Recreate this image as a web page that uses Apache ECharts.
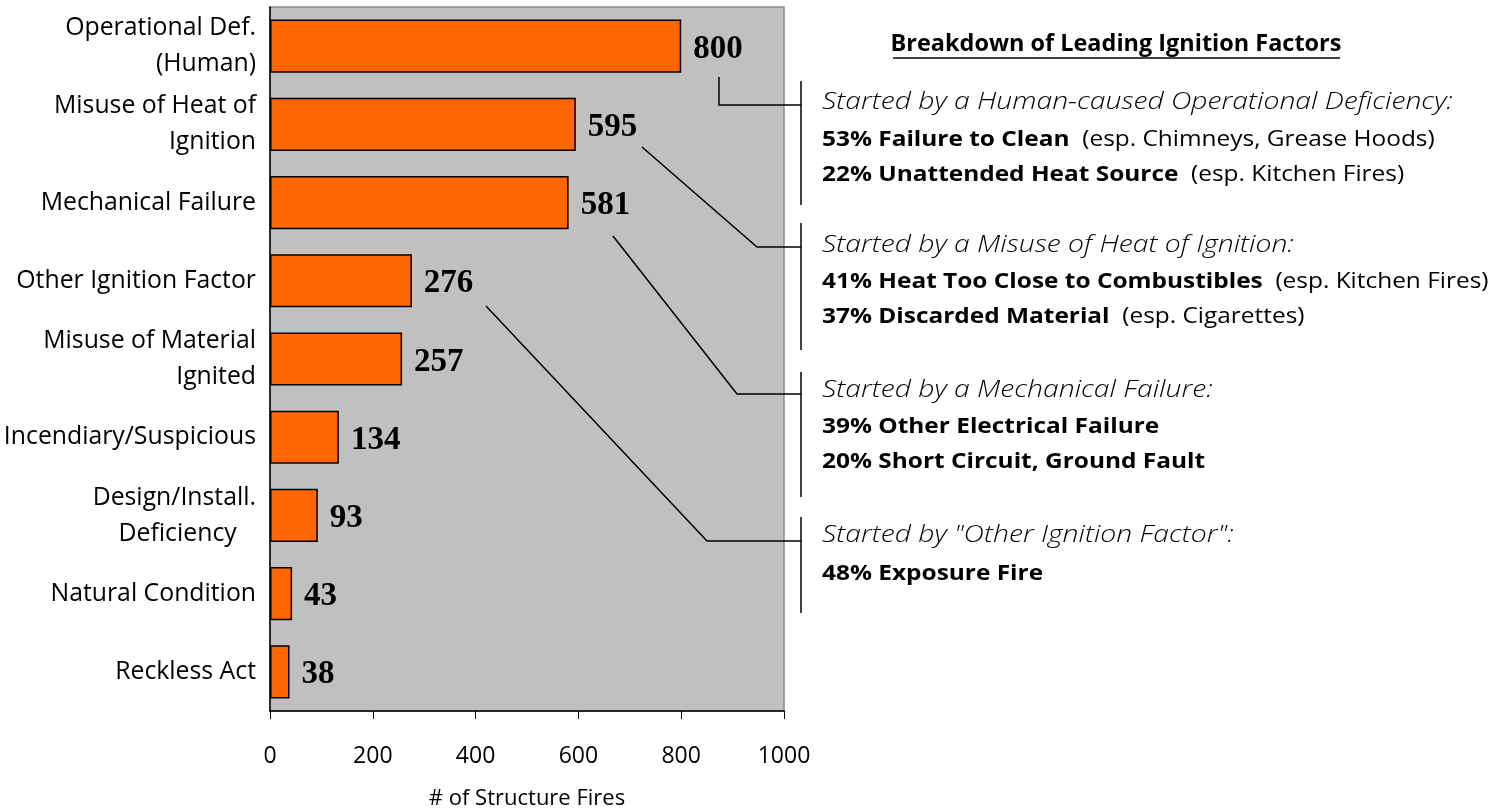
<!DOCTYPE html>
<html>
<head>
<meta charset="utf-8">
<script src="https://cdn.jsdelivr.net/npm/echarts@6/dist/echarts.min.js"></script>
<style>
html,body{margin:0;padding:0;background:#fff;}
#chart{width:1508px;height:812px;}
</style>
</head>
<body>
<div id="chart"></div>
<script>
const categories = [
  "Operational Def.\n(Human)",
  "Misuse of Heat of\nIgnition",
  "Mechanical Failure",
  "Other Ignition Factor",
  "Misuse of Material\nIgnited",
  "Incendiary/Suspicious",
  "Design/Install.\nDeficiency   ",
  "Natural Condition",
  "Reckless Act"
];
const values = [800, 595, 581, 276, 257, 134, 93, 43, 38];
const xTicks = [0, 200, 400, 600, 800, 1000];
const panelTitle = "Breakdown of Leading Ignition Factors";
const groupHeads = [
  "Started by a Human-caused Operational Deficiency:",
  "Started by a Misuse of Heat of Ignition:",
  "Started by a Mechanical Failure:",
  "Started by \"Other Ignition Factor\":"
];
const groupItems = [
  [["53% Failure to Clean", "(esp. Chimneys, Grease Hoods)"], ["22% Unattended Heat Source", "(esp. Kitchen Fires)"]],
  [["41% Heat Too Close to Combustibles", "(esp. Kitchen Fires)"], ["37% Discarded Material", "(esp. Cigarettes)"]],
  [["39% Other Electrical Failure", ""], ["20% Short Circuit, Ground Fault", ""]],
  [["48% Exposure Fire", ""]]
];

const FONT = "'Open Sans'";
const chart = echarts.init(document.getElementById('chart'));

// annotation panel layout (pixels)
const textX = 822;
const groupLineY = [[102, 140, 175], [245, 282, 317], [390, 427, 462], [535, 574]];
const brackets = [[81, 205], [223, 350], [372, 497], [517, 613]];
const bracketX = 801;
const connectors = [
  [[719, 77], [719, 105], [bracketX, 105]],
  [[642, 147], [757, 247], [bracketX, 247]],
  [[613, 236], [737, 394], [bracketX, 394]],
  [[486, 306], [707, 541], [bracketX, 541]]
];

const graphics = [];
graphics.push({
  type: 'text', x: 1116, y: 44, scaleX: 1.02,
  style: { text: panelTitle, x: 0, y: 0, align: 'center', verticalAlign: 'middle',
    font: "bold 23px " + FONT, fill: '#000' }
});
graphics.push({ type: 'line', shape: { x1: 893, y1: 58, x2: 1340, y2: 58 }, style: { stroke: '#000', lineWidth: 1.5 } });

groupHeads.forEach((h, gi) => {
  const ys = groupLineY[gi];
  graphics.push({
    type: 'text', x: textX, y: ys[0], scaleX: 1.18,
    style: { text: h, x: 0, y: 0, verticalAlign: 'middle', font: "italic 300 24px " + FONT, fill: '#000' }
  });
  groupItems[gi].forEach((it, ii) => {
    graphics.push({
      type: 'text', x: textX, y: ys[ii + 1], scaleX: 1.11,
      style: {
        text: '{b|' + it[0] + '}' + (it[1] ? '{n|  ' + it[1] + '}' : ''),
        x: 0, y: 0, verticalAlign: 'middle',
        rich: {
          b: { font: "bold 22px " + FONT, fill: '#000' },
          n: { font: "22px " + FONT, fill: '#000' }
        }
      }
    });
  });
  graphics.push({ type: 'line', shape: { x1: bracketX, y1: brackets[gi][0], x2: bracketX, y2: brackets[gi][1] }, style: { stroke: '#000', lineWidth: 1.5 } });
  graphics.push({ type: 'polyline', shape: { points: connectors[gi] }, style: { stroke: '#000', lineWidth: 1.5, fill: null }, z: 100 });
});

chart.setOption({
  backgroundColor: '#fff',
  animation: false,
  grid: { left: 270, right: 724, top: 7, bottom: 101, containLabel: false, outerBoundsMode: 'none',
    show: true, backgroundColor: '#C0C0C0', borderColor: '#8c8c8c', borderWidth: 1.5 },
  xAxis: {
    type: 'value', min: 0, max: 1000, interval: 200,
    name: '# of Structure Fires', nameLocation: 'middle', nameGap: 77,
    nameTextStyle: { fontFamily: FONT, fontSize: 22, color: '#000' },
    axisLine: { show: true, lineStyle: { color: '#000', width: 1.5 } },
    axisTick: { show: true, length: 8, lineStyle: { color: '#000', width: 1 } },
    axisLabel: { fontFamily: FONT, fontSize: 23, color: '#000', margin: 34,
      formatter: v => xTicks.includes(v) ? String(v) : '' },
    splitLine: { show: false }
  },
  yAxis: {
    type: 'category', data: categories, inverse: true,
    axisLine: { show: true, lineStyle: { color: '#000', width: 1.5 } },
    axisTick: { show: false },
    axisLabel: { fontFamily: FONT, fontSize: 24.8, color: '#000', margin: 14, lineHeight: 36, align: 'right',
      interval: 0, showMinLabel: true, showMaxLabel: true, hideOverlap: false },
    splitLine: { show: false }
  },
  series: [{
    type: 'bar', data: values, barCategoryGap: '32%',
    itemStyle: { color: '#FF6600', borderColor: '#000', borderWidth: 1.5 },
    label: { show: true, position: 'right', distance: 12, offset: [0, 3],
      fontFamily: "'Liberation Serif', 'DejaVu Serif', serif", fontWeight: 'bold', fontSize: 33, color: '#000' }
  }],
  graphic: graphics
});
</script>
</body>
</html>
